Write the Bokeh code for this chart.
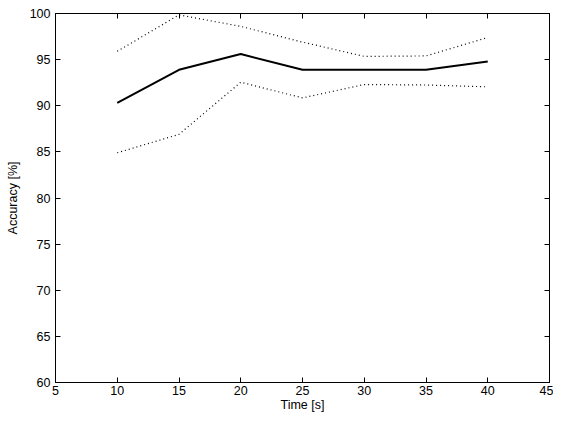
from bokeh.plotting import figure
from bokeh.models import Range1d, FixedTicker, LinearAxis, ColumnDataSource
from bokeh.embed import file_html
from bokeh.resources import INLINE

# Data
time_s = [10, 15, 20, 25, 30, 35, 40]
accuracy_mean = [90.3, 93.9, 95.6, 93.9, 93.9, 93.9, 94.8]
accuracy_upper = [95.9, 99.85, 98.6, 96.9, 95.35, 95.4, 97.4]
accuracy_lower = [84.9, 86.9, 92.55, 90.85, 92.3, 92.25, 92.05]
x_ticks = [5, 10, 15, 20, 25, 30, 35, 40, 45]
y_ticks = [60, 65, 70, 75, 80, 85, 90, 95, 100]

FONT = "Liberation Sans"

p = figure(width=553, height=414, output_backend="svg", toolbar_location=None,
           x_range=Range1d(5, 45), y_range=Range1d(60, 100),
           min_border_left=55, min_border_right=4, min_border_top=13, min_border_bottom=30)
p.background_fill_color = "white"
p.border_fill_color = "white"
p.outline_line_color = "black"
p.outline_line_width = 1
p.xgrid.visible = False
p.ygrid.visible = False

src = ColumnDataSource(dict(t=time_s, m=accuracy_mean, u=accuracy_upper, l=accuracy_lower))
p.line("t", "u", source=src, line_color="black", line_width=1.2, line_dash="1 3")
p.line("t", "l", source=src, line_color="black", line_width=1.2, line_dash="1 3")
p.line("t", "m", source=src, line_color="black", line_width=2)

def style(ax, ticks, show_labels=True):
    ax.ticker = FixedTicker(ticks=ticks)
    ax.minor_tick_line_color = None
    ax.major_tick_in = 5
    ax.major_tick_out = 0
    ax.major_tick_line_color = "black"
    ax.axis_line_color = "black"
    ax.major_label_text_font = FONT
    ax.major_label_text_color = "black"
    ax.axis_label_text_font = FONT
    ax.axis_label_text_font_style = "normal"
    ax.axis_label_text_color = "black"
    if show_labels:
        ax.major_label_text_font_size = "12.5px"
        ax.axis_label_text_font_size = "12.5px"
    else:
        ax.major_label_text_font_size = "0px"
        ax.major_label_text_color = None
        ax.major_label_standoff = 0

xa = p.xaxis[0]
ya = p.yaxis[0]
style(xa, x_ticks)
style(ya, y_ticks)
xa.axis_label = "Time [s]"
ya.axis_label = "Accuracy [%]"
xa.major_label_standoff = 3
xa.axis_label_standoff = 0
ya.major_label_standoff = 5
ya.axis_label_standoff = 7

top = LinearAxis()
right = LinearAxis()
style(top, x_ticks, show_labels=False)
style(right, y_ticks, show_labels=False)
p.add_layout(top, "above")
p.add_layout(right, "right")

open("out.html", "w").write(file_html(p, INLINE))
